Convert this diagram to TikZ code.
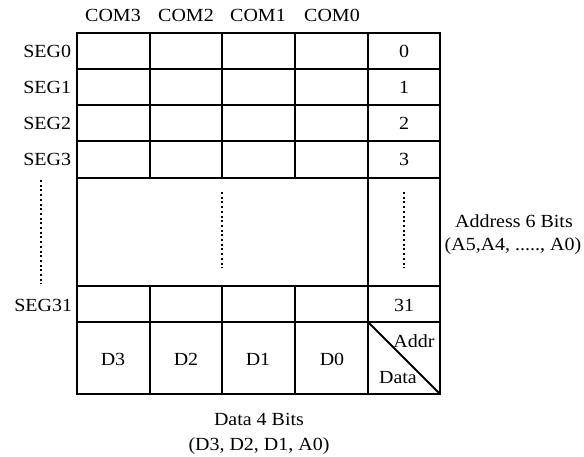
\documentclass[tikz,border=0pt]{standalone}
\usepackage{fontspec}
\setmainfont[FakeStretch=1.08]{Liberation Serif}
\tikzset{lbl/.style={anchor=base,inner sep=0pt,font=\fontsize{18.5}{20}\selectfont},
  dots/.style={line width=2pt,dash pattern=on 2pt off 2.7pt}}
\begin{document}
\begin{tikzpicture}[x=1pt,y=-1pt,line width=1.8pt,line cap=rect]
  \useasboundingbox (0,0) rectangle (584,456);
  % grid
  \foreach \y in {33,69,105,141,178,286,322,394} \draw (77,\y) -- (440,\y);
  \draw (77,33) -- (77,394) (368,33) -- (368,394) (440,33) -- (440,394);
  \foreach \x in {150,222,295} \draw (\x,33) -- (\x,178) (\x,286) -- (\x,394);
  \draw[line cap=butt] (368,322) -- (440,394);
  \draw[dots,line cap=butt] (41,180) -- (41,284) (222,192) -- (222,268)
    (404,192) -- (404,268);
  % labels
  \foreach \n/\x in {3/113,2/186,1/258,0/332} {
    \node[lbl] (com\n) at (\x,21) {COM\n};
    \node[lbl] (d\n) at (\x,365) {D\n};}
  \foreach \n/\y in {0/57,1/93,2/129,3/165} {
    \node[lbl,anchor=base east] (seg\n) at (72,\y) {SEG\n};
    \node[lbl] (a\n) at (404,\y) {\n};}
  \node[lbl,anchor=base east] (seg31) at (73,311) {SEG31};
  \node[lbl] (a31) at (404,311) {31};
  \node[lbl] (addr) at (414,347) {Addr}; \node[lbl] (data) at (398,383) {Data};
  \node[lbl] (abits) at (514,227) {Address 6 Bits};
  \node[lbl] (alist) at (513,250) {(A5,A4, ....., A0)};
  \node[lbl] (dbits) at (259,425) {Data 4 Bits};
  \node[lbl] (dlist) at (259,450) {(D3, D2, D1, A0)};
\end{tikzpicture}
\end{document}
